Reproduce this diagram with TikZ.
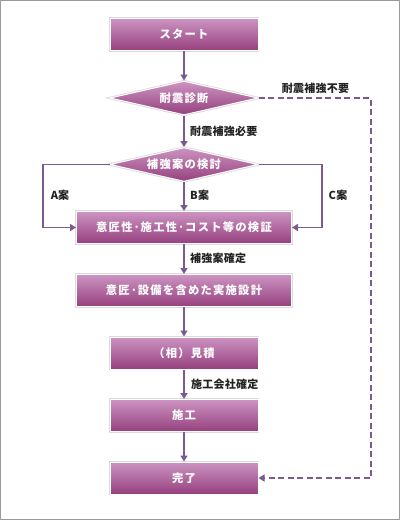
\documentclass[tikz,border=0pt]{standalone}
\usepackage{fontspec}
\setmainfont{Noto Sans CJK JP}
\newfontfamily\boxfont{Noto Sans CJK JP}[LetterSpace=11]
\newfontfamily\labfont{Noto Sans CJK JP}[LetterSpace=2]
\usetikzlibrary{arrows.meta,shapes.geometric}
\definecolor{boxtop}{HTML}{CC94C2}
\definecolor{boxbot}{HTML}{96407E}
\definecolor{linec}{HTML}{7B5A93}
\definecolor{framec}{HTML}{9A9A9A}
\definecolor{labc}{HTML}{222222}
\tikzset{
  x=1pt,y=-1pt,
  boxbase/.style={top color=boxtop,bottom color=boxbot,draw=white,line width=1pt,
    preaction={draw=black!14,line width=2.6pt},
    text=white,font=\boxfont\bfseries\fontsize{11.3}{13}\selectfont,inner sep=0pt},
  pbox/.style={boxbase,rectangle,minimum width=148pt,minimum height=32pt},
  wbox/.style={boxbase,rectangle,minimum width=215pt,minimum height=32pt},
  dbox/.style={boxbase,diamond,aspect=4.4,minimum width=148pt,minimum height=34pt},
  conn/.style={draw=linec,line width=1.6pt,-{Triangle[length=6pt,width=7pt]}},
  dconn/.style={conn,dash pattern=on 6pt off 3.5pt},
  lab/.style={text=labc,font=\labfont\bfseries\fontsize{11}{13}\selectfont,inner sep=0pt}
}
\begin{document}
\begin{tikzpicture}
\useasboundingbox (0,0) rectangle (400,520);
\fill[white] (0,0) rectangle (400,520);
\draw[framec,line width=1pt] (0.5,0.5) rectangle (399.5,519.5);

\node[pbox] (s) at (184,34.5) {スタート};
\node[dbox] (d1) at (184,98) {耐震診断};
\node[dbox] (d2) at (184,164.5) {補強案の検討};
\node[wbox] (b1) at (184,227.5) {意匠性･施工性･コスト等の検証};
\node[wbox] (b2) at (184,290.5) {意匠･設備を含めた実施設計};
\node[pbox] (b3) at (184,353) {（相）見積};
\node[pbox] (b4) at (184,415.5) {施工};
\node[pbox] (b5) at (184,478) {完了};

\coordinate (cA) at (43,227.5);
\coordinate (cC) at (322,227.5);
\coordinate (cD) at (371,478);

\draw[conn] (s.south) -- (d1.north);
\draw[conn] (d1.south) -- (d2.north);
\draw[conn] (d2.west) -| (cA) -- (b1.west);
\draw[conn] (d2.south) -- (b1.north);
\draw[conn] (d2.east) -| (cC) -- (b1.east);
\draw[conn] (b1.south) -- (b2.north);
\draw[conn] (b2.south) -- (b3.north);
\draw[conn] (b3.south) -- (b4.north);
\draw[conn] (b4.south) -- (b5.north);
\draw[dconn] (d1.east) -| (cD) -- (b5.east);

\node[lab,anchor=west] (l1) at (190,131) {耐震補強必要};
\node[lab] (l2) at (315.5,88) {耐震補強不要};
\node[lab] (lA) at (60,195) {A案};
\node[lab,anchor=west] (lB) at (190,195) {B案};
\node[lab] (lC) at (338,195) {C案};
\node[lab,anchor=west] (l3) at (190,258) {補強案確定};
\node[lab,anchor=west] (l4) at (191,384) {施工会社確定};
\end{tikzpicture}
\end{document}
